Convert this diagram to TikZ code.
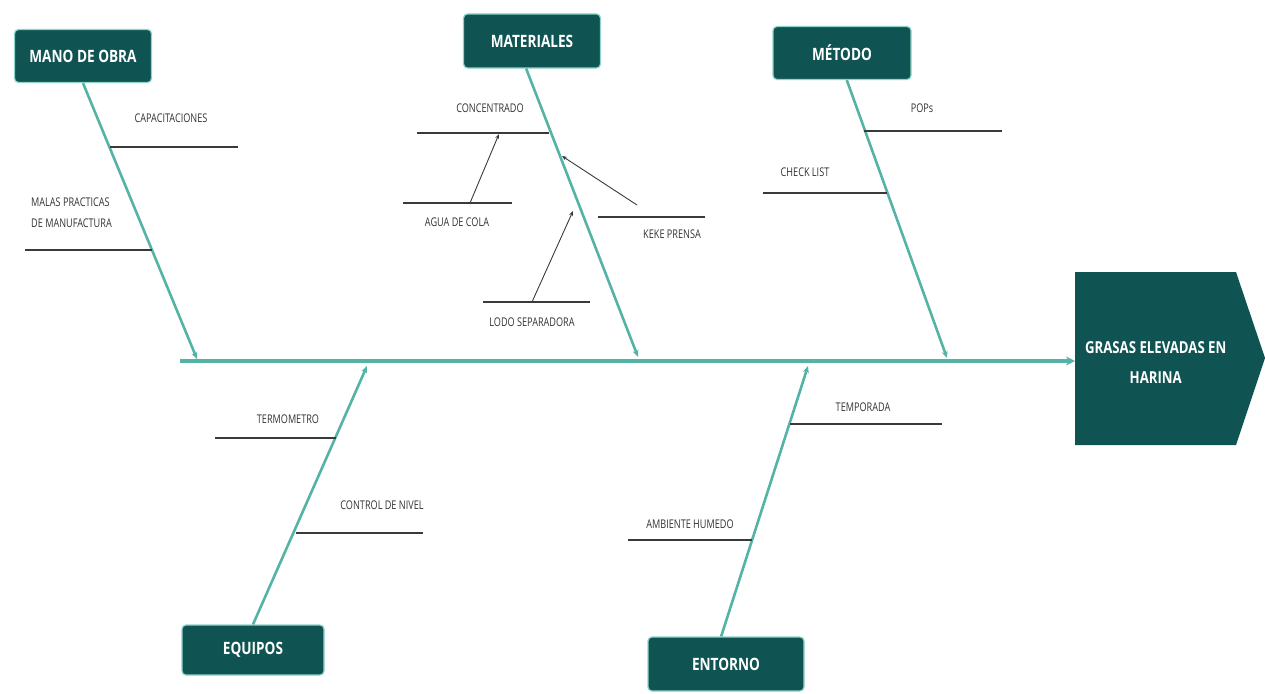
\documentclass[tikz,border=0pt]{standalone}
\usepackage{fontspec}
\setmainfont{Open Sans}
\newfontfamily\labfont[FakeStretch=0.76]{Open Sans}
\newfontfamily\boxfont[FakeStretch=0.8]{Open Sans}
\usetikzlibrary{arrows.meta}
\definecolor{boxteal}{HTML}{0F5452}
\definecolor{glow}{HTML}{8FD3C8}
\definecolor{bonecol}{HTML}{55B3A6}
\definecolor{subcol}{HTML}{3A3A3A}
\definecolor{labcol}{HTML}{333333}
\tikzset{
  catbox/.style={rounded corners=4pt, fill=boxteal, draw=glow, line width=1.2pt,
    text=white, font=\boxfont\fontsize{17}{19}\selectfont\bfseries, inner sep=0pt},
  bone/.style={draw=bonecol, line width=2.6pt, -{Stealth[length=7pt,width=6pt]}},
  spineline/.style={draw=bonecol, line width=3.6pt, -{Stealth[length=9pt,width=9pt]}},
  subline/.style={draw=subcol, line width=1.1pt},
  subarrow/.style={draw=subcol, line width=0.9pt, -{Stealth[length=5pt,width=4pt]}},
  lab/.style={text=labcol, font=\labfont\fontsize{12}{14}\selectfont, inner sep=0pt},
}
\begin{document}
\begin{tikzpicture}[x=1pt,y=-1pt]
\useasboundingbox (0,0) rectangle (1265,693);

% head
\fill[boxteal] (1075,272) -- (1236,272) -- (1265,358) -- (1236,445) -- (1075,445) -- cycle;
\node[inner sep=0pt, minimum width=161pt, minimum height=173pt, anchor=north west,
  text=white, font=\boxfont\fontsize{16.5}{30}\selectfont\bfseries, align=center]
  (head) at (1075,276) {GRASAS ELEVADAS EN\\HARINA};

% category boxes
\node[catbox, minimum width=137pt, minimum height=53pt] (mano) at (83,56) {MANO DE OBRA};
\node[catbox, minimum width=137pt, minimum height=54pt] (mat) at (532,41) {MATERIALES};
\node[catbox, minimum width=138pt, minimum height=53pt] (met) at (842,53) {MÉTODO};
\node[catbox, minimum width=142pt, minimum height=50pt] (equ) at (253,650) {EQUIPOS};
\node[catbox, minimum width=156pt, minimum height=54pt] (ent) at (726,664) {ENTORNO};

% spine
\coordinate (spL) at (180,361);
\draw[spineline] (spL) -- (head.west |- spL);

% bone ends on spine
\coordinate (e1) at (197,359);
\coordinate (e2) at (638,357);
\coordinate (e3) at (947,358);
\coordinate (e4) at (367,366);
\coordinate (e5) at (808,366);

\draw[bone] (mano.south) -- (e1);
\draw[bone] (mat.258) -- (e2);
\draw[bone] (met.280) -- (e3);
\draw[bone] (equ.north) -- (e4);
\draw[bone] (ent.100) -- (e5);

% MANO DE OBRA sub-causes
\coordinate (b11) at (110,147); \coordinate (f11) at (238,147);
\draw[subline] (b11) -- (f11);
\node[lab] (capac) at (171,118) {CAPACITACIONES};
\coordinate (b12) at (152,250); \coordinate (f12) at (25,250);
\draw[subline] (b12) -- (f12);
\node[lab, align=left, anchor=west, font=\labfont\fontsize{12}{21}\selectfont] (malas) at (31,213) {MALAS PRACTICAS\\DE MANUFACTURA};

% MATERIALES sub-causes
\coordinate (b21) at (549,133); \coordinate (f21) at (417,133);
\draw[subline] (b21) -- (f21);
\node[lab] (conc) at (490,108) {CONCENTRADO};
\coordinate (a1) at (403,203); \coordinate (a2) at (512,203);
\draw[subline] (a1) -- (a2);
\node[lab] (agua) at (457,222) {AGUA DE COLA};
\coordinate (a3) at (470,203); \coordinate (a4) at (499,134);
\draw[subarrow] (a3) -- (a4);
\coordinate (k1) at (598,217); \coordinate (k2) at (705,217);
\draw[subline] (k1) -- (k2);
\node[lab] (keke) at (672,234) {KEKE PRENSA};
\coordinate (k3) at (637,205); \coordinate (k4) at (562,156);
\draw[subarrow] (k3) -- (k4);
\coordinate (l1) at (483,302); \coordinate (l2) at (590,302);
\draw[subline] (l1) -- (l2);
\node[lab] (lodo) at (532,322) {LODO SEPARADORA};
\coordinate (l3) at (532,302); \coordinate (l4) at (573,211);
\draw[subarrow] (l3) -- (l4);

% METODO sub-causes
\coordinate (b31) at (864,131); \coordinate (f31) at (1002,131);
\draw[subline] (b31) -- (f31);
\node[lab] (pops) at (922,108) {POPs};
\coordinate (b32) at (887,193); \coordinate (f32) at (763,193);
\draw[subline] (b32) -- (f32);
\node[lab] (check) at (805,172) {CHECK LIST};

% EQUIPOS sub-causes
\coordinate (b41) at (336,438); \coordinate (f41) at (215,438);
\draw[subline] (b41) -- (f41);
\node[lab] (termo) at (288,419) {TERMOMETRO};
\coordinate (b42) at (296,533); \coordinate (f42) at (423,533);
\draw[subline] (b42) -- (f42);
\node[lab] (nivel) at (382,505) {CONTROL DE NIVEL};

% ENTORNO sub-causes
\coordinate (b51) at (790,424); \coordinate (f51) at (942,424);
\draw[subline] (b51) -- (f51);
\node[lab] (temp) at (863,407) {TEMPORADA};
\coordinate (b52) at (752,540); \coordinate (f52) at (628,540);
\draw[subline] (b52) -- (f52);
\node[lab] (amb) at (690,524) {AMBIENTE HUMEDO};
\end{tikzpicture}
\end{document}
